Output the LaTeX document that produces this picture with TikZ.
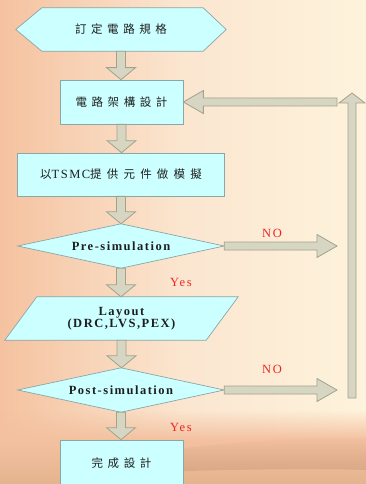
\documentclass[tikz,border=0pt]{standalone}
\usepackage{fontspec}
\setmainfont{Liberation Serif}
\newfontfamily\cjk[LetterSpace=40]{Noto Sans CJK TC}
\newfontfamily\cjkb[LetterSpace=45]{Noto Sans CJK TC}
\newfontfamily\lsp[LetterSpace=12]{Liberation Serif}
\newfontfamily\lspw[LetterSpace=14]{Liberation Serif}
\usetikzlibrary{calc,fadings}
\definecolor{boxfill}{HTML}{CCFFFF}
\definecolor{boxline}{HTML}{8AA6A6}
\definecolor{arrfill}{HTML}{D6D6C2}
\definecolor{arrline}{HTML}{A2A290}
\definecolor{txt}{HTML}{1E1E1E}
\definecolor{lblred}{HTML}{F02424}
\definecolor{bgL}{HTML}{F5C2A0}
\definecolor{bgM}{HTML}{FBE6D0}
\definecolor{bgR}{HTML}{FEF3DC}
\definecolor{bandA}{HTML}{F3C1A0}
\definecolor{bandB}{HTML}{E4B48E}
\definecolor{bandC}{HTML}{D6A283}
\pgfdeclarelayer{bg}
\pgfdeclarelayer{shp}
\pgfsetlayers{bg,shp,main}
\newcommand\dnarrow[2]{\filldraw[blkarrow] let \p1=(#1.south), \p2=(#2.north) in
  (\x1-4.5pt,\y1) -- (\x1-4.5pt,\y2+12pt) -- (\x1-14.5pt,\y2+12pt) -- (\x1,\y2)
  -- (\x1+14.5pt,\y2+12pt) -- (\x1+4.5pt,\y2+12pt) -- (\x1+4.5pt,\y1) -- cycle;}
\newcommand\hzarrow[2]{\filldraw[blkarrow] let \p1=(#1), \p2=(#2), \n1={ifthenelse(\x2>\x1,1,-1)} in
  (\x1,\y1+4pt) -- (\x2-\n1*20pt,\y1+4pt) -- (\x2-\n1*20pt,\y1+11.5pt) -- (\x2,\y1)
  -- (\x2-\n1*20pt,\y1-11.5pt) -- (\x2-\n1*20pt,\y1-4pt) -- (\x1,\y1-4pt) -- cycle;}
\begin{document}
\begin{tikzpicture}[x=1pt,y=-1pt,
  box/.style={draw=boxline, fill=boxfill, line width=0.7pt, inner sep=0pt, text=txt},
  frame/.style={inner sep=0pt, text=txt},
  shp/.style={draw=boxline, fill=boxfill, line width=0.7pt, line join=miter},
  blkarrow/.style={fill=arrfill, draw=arrline, line width=0.8pt, line join=miter},
  lbl/.style={text=lblred, font=\lspw\fontsize{12.5}{13}\selectfont},
  lat/.style={font=\lsp\bfseries\fontsize{12.5}{12.5}\selectfont},
  zh/.style={font=\cjk\fontsize{11.5}{13}\selectfont}]
\useasboundingbox (0,0) rectangle (366,484);
\clip (0,0) rectangle (366,484);
% background
\begin{pgfonlayer}{bg}
\shade[left color=bgL, right color=bgR, middle color=bgM] (0,0) rectangle (366,484);
\fill[bandA, path fading=north] (0,410) rectangle (366,440);
\shade[top color=bandA, bottom color=bandB] (0,440) rectangle (366,484);
\fill[bandC, opacity=0.7, path fading=north] (150,452) .. controls (250,440) and (320,436) .. (366,438) -- (366,470) .. controls (300,468) and (220,470) .. (150,472) -- cycle;
\end{pgfonlayer}
% nodes
\node[frame, minimum width=210, minimum height=43, zh] (spec) at (121,29.5) {訂定電路規格};
\node[box, minimum width=123, minimum height=44, zh] (arch) at (121.5,102) {電路架構設計};
\node[box, minimum width=207, minimum height=43] (sim) at (121,174.5) {{\cjkb\fontsize{11.5}{13}\selectfont 以}{\lsp\fontsize{12.5}{13}\selectfont TSMC}{\cjkb\fontsize{11.5}{13}\selectfont 提供元件做模擬}};
\node[frame, minimum width=206, minimum height=44, lat] (pre) at (121,246) {Pre-simulation};
\node[frame, minimum width=233, minimum height=43, lat, align=center] (lay) at (121.5,318.5) {Layout\\(DRC,LVS,PEX)};
\node[frame, minimum width=206, minimum height=44, lat] (post) at (121,390) {Post-simulation};
\node[box, minimum width=123, minimum height=46, zh] (done) at (121.5,463) {完成設計};
% shapes
\begin{pgfonlayer}{shp}
\filldraw[shp] (spec.west) -- ($(spec.north west)+(26,0)$) -- ($(spec.north east)+(-23,0)$) -- (spec.east)
  -- ($(spec.south east)+(-23,0)$) -- ($(spec.south west)+(26,0)$) -- cycle;
\filldraw[shp] (pre.west) -- (pre.north) -- (pre.east) -- (pre.south) -- cycle;
\filldraw[shp] ($(lay.north west)+(32,0)$) -- (lay.north east) -- ($(lay.south east)+(-32,0)$) -- (lay.south west) -- cycle;
\filldraw[shp] (post.west) -- (post.north) -- (post.east) -- (post.south) -- cycle;
\end{pgfonlayer}
% down arrows
\dnarrow{spec}{arch}
\dnarrow{arch}{sim}
\dnarrow{sim}{pre}
\dnarrow{pre}{lay}
\dnarrow{lay}{post}
\dnarrow{post}{done}
% NO branches and return
\coordinate (no1) at (337,246);
\coordinate (no2) at (337,390);
\coordinate (rb) at (352,398);
\coordinate (rt) at (352,93);
\coordinate (rs) at (337,102);
\hzarrow{pre.east}{no1}
\hzarrow{post.east}{no2}
\filldraw[blkarrow] let \p1=(rb), \p2=(rt) in
  (\x1-4pt,\y1) -- (\x1-4pt,\y2-10pt) -- (\x1-13pt,\y2-10pt) -- (\x1,\y2)
  -- (\x1+13pt,\y2-10pt) -- (\x1+4pt,\y2-10pt) -- (\x1+4pt,\y1) -- cycle;
\hzarrow{rs}{arch.east}
% labels
\node[lbl] (lno1) at (272,233) {NO};
\node[lbl] (lno2) at (272,369) {NO};
\node[lbl] (lyes1) at (181,282) {Yes};
\node[lbl] (lyes2) at (181,427) {Yes};
\end{tikzpicture}
\end{document}
